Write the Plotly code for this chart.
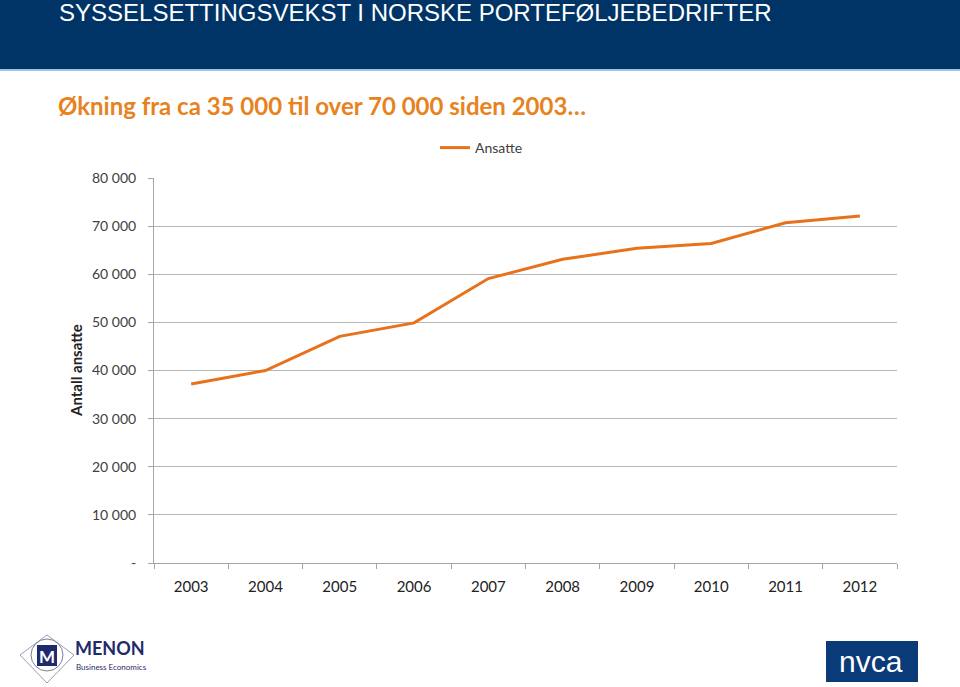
import plotly.graph_objects as go

years = ["2003", "2004", "2005", "2006", "2007", "2008", "2009", "2010", "2011", "2012"]
ansatte = [37200, 40000, 47100, 49900, 59100, 63100, 65400, 66400, 70700, 72100]
y_tickvals = [0, 10000, 20000, 30000, 40000, 50000, 60000, 70000, 80000]
y_ticktext = ["-", "10 000", "20 000", "30 000", "40 000", "50 000", "60 000", "70 000", "80 000"]
grid_vals = [10000, 20000, 30000, 40000, 50000, 60000, 70000]

W, H = 960, 687
L, R, T, B = 154, 897, 178, 563

def px(x):
    return (x - L) / (R - L)

def py(y):
    return (B - y) / (B - T)

NAVY = "#003466"
ORANGE = "#E8711B"
TXT = "#404040"

fig = go.Figure()
fig.add_trace(go.Scatter(x=years, y=ansatte, mode="lines", name="Ansatte",
                         line=dict(color=ORANGE, width=3), yaxis="y2"))
fig.add_trace(go.Scatter(x=years, y=ansatte, mode="lines", showlegend=False,
                         line=dict(color="rgba(0,0,0,0)", width=0), yaxis="y", hoverinfo="skip"))

shapes = [
    dict(type="rect", xref="paper", yref="paper", x0=px(0), x1=px(W), y0=py(0), y1=py(69),
         fillcolor=NAVY, line=dict(width=0), layer="below"),
    dict(type="rect", xref="paper", yref="paper", x0=px(0), x1=px(W), y0=py(69), y1=py(71),
         fillcolor="#9DC3E6", line=dict(width=0), layer="below"),
    # Menon emblem
    dict(type="path", xref="paper", yref="paper",
         path=f"M {px(20)},{py(655)} L {px(47)},{py(635)} L {px(74)},{py(655)} L {px(47)},{py(683)} Z",
         line=dict(color="#9a9fb5", width=1)),
    dict(type="circle", xref="paper", yref="paper", x0=px(31), x1=px(63), y0=py(639), y1=py(671),
         fillcolor="white", line=dict(color="#7a7f99", width=1)),
    dict(type="path", xref="paper", yref="paper",
         path=f"M {px(37)},{py(645)} L {px(57)},{py(645)} L {px(57)},{py(666)} L {px(37)},{py(666)} Z",
         fillcolor="#1f2a6b", line=dict(width=0)),
    # nvca box
    dict(type="rect", xref="paper", yref="paper", x0=px(826), x1=px(918), y0=py(641), y1=py(682),
         fillcolor="#0b3a78", line=dict(width=0)),
]

annotations = [
    dict(text="SYSSELSETTINGSVEKST I NORSKE PORTEFØLJEBEDRIFTER", xref="paper", yref="paper",
         x=px(57), y=py(12), xanchor="left", yanchor="middle", showarrow=False,
         font=dict(family="Liberation Sans, Arial", size=24, color="white")),
    dict(text="<b>Økning fra ca 35 000 til over 70 000 siden 2003…</b>", xref="paper", yref="paper",
         x=px(56), y=py(106), xanchor="left", yanchor="middle", showarrow=False,
         font=dict(family="Lato, Open Sans", size=24, color="#E8821E")),
    dict(text="<b>Antall ansatte</b>", xref="paper", yref="paper", x=px(76), y=py(371),
         xanchor="center", yanchor="middle", textangle=-90, showarrow=False,
         font=dict(family="Lato", size=15, color="#222222")),
    dict(text="<b>M</b>", xref="paper", yref="paper", x=px(47), y=py(656), showarrow=False,
         xanchor="center", yanchor="middle", font=dict(family="Lato", size=17, color="white")),
    dict(text="<b>MENON</b>", xref="paper", yref="paper", x=px(73), y=py(648), showarrow=False,
         xanchor="left", yanchor="middle", font=dict(family="Lato", size=18, color="#1f2a6b")),
    dict(text="Business Economics", xref="paper", yref="paper", x=px(74), y=py(667), showarrow=False,
         xanchor="left", yanchor="middle", font=dict(family="Lato", size=8, color="#1f2a6b")),
    dict(text="nvca", xref="paper", yref="paper", x=px(871), y=py(661), showarrow=False,
         xanchor="center", yanchor="middle", font=dict(family="Liberation Sans", size=30, color="white")),
]

fig.update_layout(
    width=W, height=H,
    margin=dict(l=L, r=W - R, t=T, b=H - B),
    paper_bgcolor="white", plot_bgcolor="white",
    showlegend=True,
    legend=dict(orientation="h", x=px(435), y=py(148), xanchor="left", yanchor="middle",
                font=dict(family="Lato", size=14, color=TXT), bgcolor="rgba(0,0,0,0)"),
    xaxis=dict(type="category", showgrid=False, showline=True, linecolor="#a6a6a6", linewidth=1,
               ticks="outside", tickson="boundaries", ticklen=5, tickcolor="#a6a6a6",
               tickfont=dict(family="Lato", size=15, color="#222222"), range=[-0.5, 9.5],
               ticklabelstandoff=10),
    yaxis=dict(range=[0, 80000], tickvals=y_tickvals, ticktext=y_ticktext, showgrid=False,
               showline=True, linecolor="#a6a6a6", linewidth=1, ticks="outside", ticklen=5,
               tickcolor="#a6a6a6", tickfont=dict(family="Lato", size=14, color=TXT),
               zeroline=False, ticklabelstandoff=9),
    yaxis2=dict(range=[0, 80000], overlaying="y", tickvals=grid_vals, showticklabels=False,
                showgrid=True, gridcolor="#b5b5b5", gridwidth=1, zeroline=False, showline=False),
    shapes=shapes,
    annotations=annotations,
)
fig.write_html("out.html", config={"displayModeBar": False},
               post_script="document.body.style.margin='0';")
